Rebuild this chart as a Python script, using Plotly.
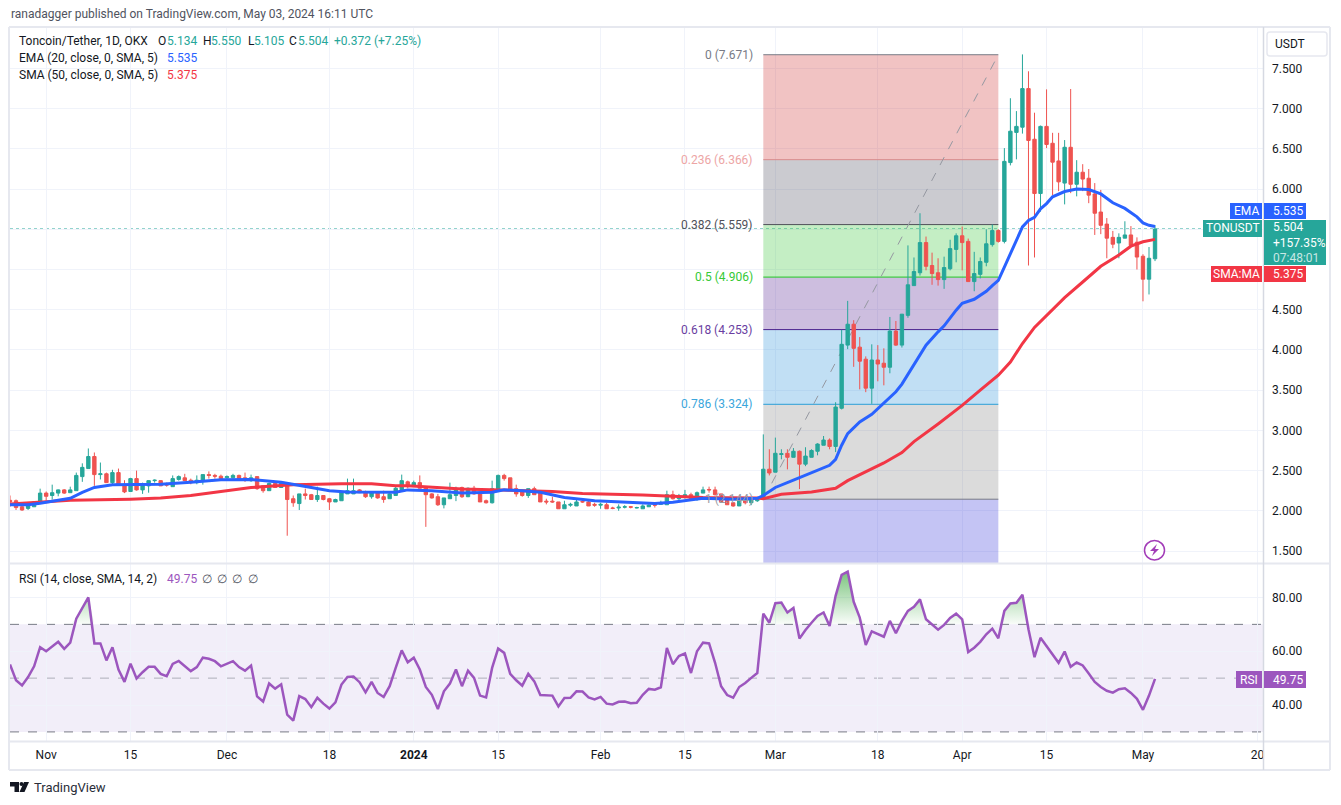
import numpy as np
import pandas as pd
import plotly.graph_objects as go

W = 1341
H = 805
FONT = "Roboto"

dates = pd.date_range("2023-10-26", "2024-05-03", freq="D")

opens = [
    2.13, 2.125, 2.05, 2.03, 2.05, 2.11, 2.22, 2.19, 2.22, 2.26,
    2.225, 2.25, 2.425, 2.525, 2.675, 2.45, 2.46, 2.35, 2.475, 2.33,
    2.24, 2.40, 2.26, 2.31, 2.375, 2.375, 2.33, 2.30, 2.39, 2.41,
    2.38, 2.35, 2.37, 2.45, 2.44, 2.43, 2.41, 2.41, 2.44, 2.41,
    2.375, 2.425, 2.31, 2.25, 2.34, 2.29, 2.325, 2.15, 2.09, 2.21,
    2.20, 2.14, 2.19, 2.15, 2.11, 2.125, 2.21, 2.21, 2.26, 2.235,
    2.175, 2.225, 2.175, 2.15, 2.19, 2.26, 2.36, 2.31, 2.35, 2.30,
    2.21, 2.175, 2.075, 2.15, 2.19, 2.29, 2.175, 2.28, 2.23, 2.125,
    2.10, 2.26, 2.44, 2.41, 2.275, 2.24, 2.19, 2.275, 2.225, 2.12,
    2.12, 2.11, 2.025, 2.07, 2.06, 2.115, 2.11, 2.08, 2.07, 2.075,
    2.035, 2.035, 2.045, 2.05, 2.035, 2.025, 2.05, 2.08, 2.08, 2.075,
    2.20, 2.15, 2.175, 2.20, 2.14, 2.22, 2.265, 2.26, 2.21, 2.14,
    2.10, 2.06, 2.125, 2.10, 2.125, 2.14, 2.517, 2.48, 2.70, 2.715,
    2.665, 2.74, 2.58, 2.665, 2.74, 2.815, 2.88, 2.80, 3.275, 4.06,
    4.32, 4.035, 3.885, 3.525, 3.875, 3.835, 3.785, 4.235, 4.06, 4.43,
    4.80, 4.96, 5.335, 5.05, 4.96, 4.875, 5.01, 5.25, 5.42, 5.35,
    4.85, 4.94, 5.09, 5.31, 5.485, 5.35, 6.33, 6.705, 6.77, 7.25,
    6.62, 5.945, 6.78, 6.57, 6.35, 6.075, 6.52, 6.06, 6.21, 6.135,
    5.94, 5.715, 5.565, 5.40, 5.33, 5.39, 5.43, 5.34, 5.165, 4.88, 5.134,
]
highs = [
    2.19, 2.14, 2.06, 2.09, 2.12, 2.275, 2.24, 2.325, 2.265, 2.27,
    2.30, 2.475, 2.59, 2.775, 2.725, 2.60, 2.475, 2.51, 2.525, 2.38,
    2.41, 2.50, 2.35, 2.38, 2.39, 2.38, 2.35, 2.44, 2.44, 2.46,
    2.40, 2.44, 2.45, 2.49, 2.46, 2.45, 2.44, 2.46, 2.45, 2.475,
    2.45, 2.425, 2.31, 2.35, 2.36, 2.36, 2.33, 2.19, 2.21, 2.275,
    2.21, 2.30, 2.19, 2.16, 2.15, 2.24, 2.40, 2.40, 2.27, 2.25,
    2.225, 2.23, 2.25, 2.22, 2.30, 2.45, 2.375, 2.375, 2.44, 2.30,
    2.22, 2.21, 2.16, 2.35, 2.30, 2.30, 2.29, 2.31, 2.23, 2.14,
    2.375, 2.45, 2.46, 2.41, 2.325, 2.26, 2.275, 2.30, 2.225, 2.15,
    2.175, 2.11, 2.125, 2.10, 2.14, 2.14, 2.14, 2.10, 2.10, 2.10,
    2.05, 2.08, 2.07, 2.06, 2.05, 2.08, 2.08, 2.10, 2.125, 2.25,
    2.25, 2.21, 2.26, 2.225, 2.24, 2.30, 2.30, 2.30, 2.21, 2.17,
    2.10, 2.165, 2.14, 2.16, 2.17, 2.95, 2.765, 2.91, 2.765, 2.765,
    2.78, 2.75, 2.79, 2.765, 2.84, 2.93, 2.90, 3.35, 4.25, 4.61,
    4.37, 4.16, 3.92, 4.07, 4.06, 4.02, 4.41, 4.36, 4.445, 5.30,
    5.15, 5.70, 5.41, 5.21, 5.14, 5.16, 5.37, 5.45, 5.535, 5.385,
    5.22, 5.15, 5.50, 5.56, 5.50, 6.51, 7.13, 6.97, 7.675, 7.465,
    6.95, 6.79, 7.24, 6.70, 6.70, 6.61, 7.245, 6.36, 6.31, 6.25,
    6.075, 5.99, 5.64, 5.48, 5.45, 5.60, 5.54, 5.40, 5.19, 5.28, 5.55,
]
lows = [
    2.05, 2.01, 2.0, 2.01, 2.05, 2.09, 2.125, 2.14, 2.18, 2.21,
    2.225, 2.25, 2.36, 2.525, 2.31, 2.39, 2.35, 2.325, 2.325, 2.22,
    2.24, 2.25, 2.21, 2.225, 2.35, 2.31, 2.30, 2.30, 2.375, 2.375,
    2.33, 2.33, 2.325, 2.40, 2.40, 2.39, 2.39, 2.40, 2.39, 2.36,
    2.36, 2.26, 2.225, 2.25, 2.29, 2.29, 1.69, 2.05, 2.01, 2.14,
    2.14, 2.11, 2.13, 2.01, 2.11, 2.125, 2.21, 2.21, 2.22, 2.16,
    2.15, 2.15, 2.10, 2.15, 2.19, 2.24, 2.28, 2.30, 2.28, 1.80,
    2.15, 2.06, 2.03, 2.15, 2.12, 2.16, 2.17, 2.20, 2.11, 2.09,
    2.09, 2.26, 2.375, 2.26, 2.175, 2.175, 2.16, 2.20, 2.11, 2.08,
    2.10, 2.025, 2.025, 2.05, 2.06, 2.10, 2.06, 2.05, 2.025, 2.025,
    2.02, 2.0, 2.03, 2.03, 2.03, 2.025, 2.05, 2.04, 2.075, 2.075,
    2.14, 2.125, 2.15, 2.14, 2.125, 2.22, 2.225, 2.19, 2.10, 2.075,
    2.05, 2.06, 2.08, 2.07, 2.11, 2.14, 2.44, 2.48, 2.64, 2.515,
    2.665, 2.27, 2.555, 2.665, 2.69, 2.815, 2.765, 2.73, 3.26, 4.01,
    3.79, 3.51, 3.475, 3.33, 3.61, 3.56, 3.71, 4.05, 4.03, 4.40,
    4.80, 4.925, 4.99, 4.81, 4.80, 4.76, 4.99, 5.09, 4.99, 4.85,
    4.73, 4.89, 5.04, 5.285, 5.335, 5.325, 6.295, 6.37, 6.69, 5.05,
    5.15, 5.72, 6.51, 5.925, 5.975, 5.81, 5.95, 5.91, 5.975, 5.825,
    5.43, 5.44, 5.14, 5.265, 5.14, 5.39, 5.29, 5.0, 4.605, 4.69, 5.105,
]
closes = [
    2.11, 2.04, 2.01, 2.06, 2.11, 2.22, 2.18, 2.225, 2.26, 2.22,
    2.26, 2.44, 2.54, 2.675, 2.45, 2.46, 2.35, 2.475, 2.325, 2.235,
    2.40, 2.26, 2.325, 2.375, 2.38, 2.31, 2.32, 2.40, 2.425, 2.375,
    2.35, 2.38, 2.45, 2.44, 2.43, 2.40, 2.425, 2.44, 2.40, 2.39,
    2.41, 2.275, 2.25, 2.34, 2.29, 2.34, 2.14, 2.10, 2.21, 2.19,
    2.14, 2.19, 2.14, 2.11, 2.14, 2.225, 2.25, 2.25, 2.225, 2.175,
    2.225, 2.16, 2.14, 2.21, 2.28, 2.375, 2.30, 2.35, 2.28, 2.20,
    2.16, 2.075, 2.16, 2.20, 2.28, 2.175, 2.28, 2.21, 2.11, 2.10,
    2.275, 2.44, 2.40, 2.26, 2.21, 2.19, 2.275, 2.20, 2.11, 2.11,
    2.11, 2.025, 2.075, 2.08, 2.11, 2.11, 2.06, 2.07, 2.08, 2.025,
    2.03, 2.045, 2.05, 2.045, 2.04, 2.06, 2.07, 2.07, 2.10, 2.20,
    2.15, 2.18, 2.20, 2.14, 2.225, 2.26, 2.26, 2.20, 2.11, 2.075,
    2.06, 2.125, 2.10, 2.14, 2.16, 2.517, 2.47, 2.715, 2.71, 2.665,
    2.74, 2.58, 2.68, 2.75, 2.83, 2.88, 2.80, 3.29, 4.07, 4.32,
    4.02, 3.86, 3.525, 3.875, 3.825, 3.785, 4.235, 4.06, 4.445, 4.81,
    4.975, 5.335, 5.04, 4.95, 4.875, 5.025, 5.26, 5.42, 5.335, 4.85,
    4.95, 5.10, 5.32, 5.485, 5.35, 6.345, 6.72, 6.78, 7.25, 6.605,
    5.945, 6.78, 6.555, 6.335, 6.09, 6.52, 6.06, 6.21, 6.125, 5.925,
    5.70, 5.55, 5.39, 5.315, 5.40, 5.43, 5.30, 5.155, 4.88, 5.14, 5.504,
]

# moving averages at these candles
ema_days = [
    0, 3, 5, 8, 10, 12, 14, 17, 20, 25, 30, 35, 40, 45, 50, 53, 56, 60, 64, 66,
    70, 75, 80, 82, 85, 88, 92, 97, 102, 107, 110, 115, 120, 124, 125, 127, 130,
    133, 136, 137, 138, 139, 141, 143, 145, 147, 148, 150, 151, 152, 154, 155,
    157, 158, 160, 162, 163, 164, 165, 166, 167, 168, 169, 170, 171, 172, 173,
    175, 177, 179, 181, 183, 185, 187, 188, 189, 190,
]
ema_vals = [
    2.075, 2.075, 2.095, 2.13, 2.155, 2.23, 2.29, 2.325, 2.325, 2.33, 2.355,
    2.385, 2.39, 2.355, 2.29, 2.25, 2.235, 2.235, 2.23, 2.26, 2.25, 2.22, 2.23,
    2.26, 2.25, 2.23, 2.165, 2.125, 2.105, 2.09, 2.105, 2.155, 2.145, 2.155,
    2.19, 2.29, 2.38, 2.47, 2.565, 2.64, 2.815, 2.96, 3.105, 3.20, 3.335, 3.48,
    3.575, 3.81, 3.935, 4.06, 4.225, 4.30, 4.495, 4.58, 4.63, 4.73, 4.80, 4.865,
    5.03, 5.195, 5.36, 5.53, 5.61, 5.65, 5.755, 5.82, 5.905, 5.97, 6.0, 5.995,
    5.94, 5.83, 5.76, 5.655, 5.58, 5.55, 5.535,
]
sma_days = [
    0, 5, 10, 20, 25, 30, 35, 40, 43, 47, 55, 60, 64, 66, 75, 85, 90, 95, 105,
    115, 124, 125, 128, 133, 137, 139, 142, 145, 148, 150, 154, 158, 161, 164,
    166, 168, 170, 173, 175, 178, 181, 184, 186, 188, 190,
]
sma_vals = [
    2.085, 2.11, 2.13, 2.145, 2.16, 2.19, 2.24, 2.29, 2.305, 2.325, 2.335, 2.335,
    2.31, 2.31, 2.27, 2.25, 2.24, 2.215, 2.195, 2.165, 2.16, 2.15, 2.205, 2.235,
    2.28, 2.375, 2.48, 2.595, 2.725, 2.86, 3.08, 3.31, 3.5, 3.685, 3.85, 4.08,
    4.28, 4.51, 4.65, 4.845, 5.04, 5.18, 5.29, 5.345, 5.375,
]

rsi_vals = [
    55.1, 49.2, 47.3, 50.4, 54.4, 61.5, 60, 61.9, 63.5, 60.9,
    63.2, 72.1, 75.9, 80, 62.9, 62.9, 56.6, 61.5, 53.2, 48.6,
    55.4, 49.9, 52.2, 54.2, 54.2, 51.6, 50.7, 55.3, 56.4, 54.4,
    52.6, 54.1, 57.6, 57.2, 56.3, 54.4, 55.4, 56.3, 54.1, 52.8,
    54.7, 43.2, 41.3, 48, 46.1, 47.7, 36.4, 34.2, 43.3, 42.2,
    39.2, 42.7, 40.5, 38.7, 41, 47.6, 50.4, 50.6, 48.5, 44.7,
    48.6, 44.5, 43, 47, 53.8, 60.3, 55.9, 57.6, 53.2, 46.7,
    43.8, 38.5, 45.1, 48, 53.2, 47, 52.8, 50.1, 43.5, 42.8,
    53.8, 61, 59.4, 51.6, 49.2, 47.2, 51.6, 48.8, 43.7, 43.6,
    43.5, 39.5, 42.6, 42.7, 45.1, 45, 42.8, 42.1, 43, 40.5,
    40.2, 41.2, 41.3, 40.7, 40.8, 43.8, 46, 45.7, 46.6, 61.2,
    55.2, 58.2, 59.2, 51.9, 60, 63.2, 62.9, 55.7, 47, 43.7,
    42.7, 46.7, 48.2, 50.1, 51.9, 74, 70.6, 77.9, 78.1, 74.4,
    76.1, 64.7, 67.9, 70.6, 73.1, 74.4, 69.4, 80.6, 88.4, 89.6,
    78.4, 72.5, 62.3, 67.4, 66.3, 65.4, 71.3, 66.7, 71.3, 75,
    76.5, 79.3, 71.9, 69.8, 68, 69.8, 72.4, 74, 71.9, 59.7,
    61.3, 63.5, 66.3, 68.4, 64.8, 75, 77.8, 78, 81, 68.2,
    57.8, 65, 61.9, 58.8, 55.7, 59.9, 54.2, 55.8, 54.7, 51.7,
    48.6, 46.7, 45.3, 44.6, 45.9, 46.2, 44.5, 42.3, 38.2, 43.5, 49.75,
]

fib_ratios = ["0", "0.236", "0.382", "0.5", "0.618", "0.786", "1"]
fib_prices = [7.671, 6.366, 5.559, 4.906, 4.253, 3.324, 2.144]
fib_lines = ["#787b86", "#d98a8a", "#50505a", "#22c922", "#4a1f8c", "#2b9fd8", "#787b86"]
fib_text = ["#787b86", "#eda5a5", "#50505a", "#35c935", "#6a3ea1", "#3ba6dc", "#9a9ca5"]
fib_fills = [
    "rgba(204,40,40,0.28)", "rgba(70,70,85,0.28)", "rgba(60,200,60,0.30)",
    "rgba(90,40,150,0.30)", "rgba(50,150,220,0.30)", "rgba(90,90,90,0.22)",
    "rgba(60,60,220,0.30)",
]

price_ticks = [1.5, 2.0, 2.5, 3.0, 3.5, 4.0, 4.5, 5.0, 5.5, 6.0, 6.5, 7.0, 7.5]
# 5.000 and 5.500 sit under the value boxes in the reference
price_labels = ["1.500", "2.000", "2.500", "3.000", "3.500", "4.000", "4.500", "", "",
                "6.000", "6.500", "7.000", "7.500"]
rsi_ticks = [40, 60, 80]
time_ticks = [
    "2023-11-01", "2023-11-15", "2023-12-01", "2023-12-18", "2024-01-01", "2024-01-15",
    "2024-02-01", "2024-02-15", "2024-03-01", "2024-03-18", "2024-04-01", "2024-04-15",
    "2024-05-01", "2024-05-20",
]
time_labels = ["Nov", "15", "Dec", "18", "<b>2024</b>", "15", "Feb", "15", "Mar", "18", "Apr", "15", "May", "20"]

UP = "#26a69a"
DOWN = "#ef5350"
EMA = "#2962ff"
SMA = "#f23645"
RSI = "#9c56be"
GRID = "#f0f3fa"
EDGE = "#e6e8ef"
TEXT = "#131722"

assert len(dates) == len(opens) == len(highs) == len(lows) == len(closes) == len(rsi_vals)
assert len(ema_days) == len(ema_vals) and len(sma_days) == len(sma_vals)

PY_TOP = 1.5 + (551 - 28) / 80.42
PY_BOT = 1.5 - (563 - 551) / 80.42
RSI_TOP = 80 + (597.5 - 564) / 2.69
RSI_BOT = 40 - (741 - 705) / 2.69
x_range = [dates[0], pd.Timestamp("2024-05-20 22:00")]


def px(x):
    return x / W


def py(y):
    return 1 - y / H


fig = go.Figure()
fig.add_trace(go.Candlestick(
    x=dates, open=opens, high=highs, low=lows, close=closes,
    increasing=dict(line=dict(color=UP, width=1), fillcolor=UP),
    decreasing=dict(line=dict(color=DOWN, width=1), fillcolor=DOWN),
    whiskerwidth=0, xaxis="x", yaxis="y", hoverinfo="skip",
))
fig.add_trace(go.Scatter(
    x=dates[sma_days], y=sma_vals, mode="lines", xaxis="x", yaxis="y",
    line=dict(color=SMA, width=3), hoverinfo="skip",
))
fig.add_trace(go.Scatter(
    x=dates[ema_days], y=ema_vals, mode="lines", xaxis="x", yaxis="y",
    line=dict(color=EMA, width=3), hoverinfo="skip",
))

# green glow above the 70 line
fig.add_trace(go.Scatter(
    x=dates, y=[70] * len(dates), mode="lines", xaxis="x2", yaxis="y2",
    line=dict(width=0), hoverinfo="skip",
))
fig.add_trace(go.Scatter(
    x=dates, y=np.maximum(rsi_vals, 70), mode="lines", xaxis="x2", yaxis="y2",
    line=dict(width=0), fill="tonexty", hoverinfo="skip",
    fillgradient=dict(
        type="vertical", start=90, stop=70,
        colorscale=[[0, "rgba(76,175,80,0.75)"], [1, "rgba(76,175,80,0.03)"]],
    ),
))
fig.add_trace(go.Scatter(
    x=dates, y=rsi_vals, mode="lines", xaxis="x2", yaxis="y2",
    line=dict(color=RSI, width=2.5), hoverinfo="skip",
))

shapes = []
fib_start = dates[125]
fib_end = dates[164]
band_edges = fib_prices + [PY_BOT]
for i in range(len(fib_fills)):
    shapes.append(dict(
        type="rect", xref="x", yref="y", x0=fib_start, x1=fib_end,
        y0=band_edges[i], y1=band_edges[i + 1],
        fillcolor=fib_fills[i], line_width=0, layer="between",
    ))
for level, color in zip(fib_prices, fib_lines):
    shapes.append(dict(
        type="line", xref="x", yref="y", x0=fib_start, x1=fib_end, y0=level, y1=level,
        line=dict(color=color, width=1), layer="between",
    ))
shapes.append(dict(
    type="line", xref="x", yref="y", x0=fib_start, x1=fib_end, y0=fib_prices[-1], y1=fib_prices[0],
    line=dict(color="#9598a1", width=1, dash="dash"), layer="between",
))
shapes.append(dict(
    type="line", xref="paper", yref="y", x0=px(10), x1=px(1263), y0=closes[-1], y1=closes[-1],
    line=dict(color=UP, width=1, dash="dot"), layer="between",
))

# rsi band
shapes.append(dict(
    type="rect", xref="paper", yref="y2", x0=px(10), x1=px(1263), y0=30, y1=70,
    fillcolor="rgba(126,87,194,0.1)", line_width=0, layer="between",
))
for level, color in [(70, "#787b86"), (50, "rgba(120,123,134,0.55)"), (30, "#787b86")]:
    shapes.append(dict(
        type="line", xref="paper", yref="y2", x0=px(10), x1=px(1263), y0=level, y1=level,
        line=dict(color=color, width=1, dash="dash"), layer="between",
    ))


def frame(x0, y0, x1, y1, color=EDGE, width=2):
    shapes.append(dict(
        type="line", xref="paper", yref="paper", x0=px(x0), x1=px(x1), y0=py(y0), y1=py(y1),
        line=dict(color=color, width=width), layer="above",
    ))


frame(9, 27, 1330, 27)
frame(9, 27, 9, 770)
frame(1330, 27, 1330, 770)
frame(9, 770, 1330, 770)
frame(10, 563.5, 1330, 563.5)
frame(10, 741.5, 1330, 741.5)
frame(1263.5, 27, 1263.5, 770, color="#d6d9e2", width=1.5)


def box(x0, y0, x1, y1, color):
    shapes.append(dict(
        type="rect", xref="paper", yref="paper", x0=px(x0), x1=px(x1), y0=py(y0), y1=py(y1),
        fillcolor=color, line_width=0, layer="above",
    ))


box(1230, 203, 1262, 219, EMA)
box(1264, 203, 1306, 219, EMA)
box(1203, 220, 1262, 237, UP)
box(1264, 220, 1326, 265, UP)
box(1211, 266, 1262, 282, SMA)
box(1264, 266, 1306, 282, SMA)
box(1236, 671, 1262, 688, RSI)
box(1264, 671, 1306, 688, RSI)

# USDT button
shapes.append(dict(
    type="path", xref="paper", yref="paper", layer="above",
    path=f"M {px(1270)} {py(32)} L {px(1324)} {py(32)} Q {px(1327)} {py(32)} {px(1327)} {py(35)} "
         f"L {px(1327)} {py(53)} Q {px(1327)} {py(56)} {px(1324)} {py(56)} L {px(1270)} {py(56)} "
         f"Q {px(1267)} {py(56)} {px(1267)} {py(53)} L {px(1267)} {py(35)} Q {px(1267)} {py(32)} {px(1270)} {py(32)} Z",
    line=dict(color=EDGE, width=1.5), fillcolor="white",
))

# lightning marker
shapes.append(dict(
    type="circle", xref="paper", yref="paper", x0=px(1144.5), x1=px(1164.5), y0=py(540.5), y1=py(560),
    line=dict(color="#a23cb8", width=1.5), fillcolor="white", layer="above",
))
shapes.append(dict(
    type="path", xref="paper", yref="paper", layer="above",
    path=f"M {px(1157)} {py(544)} L {px(1150)} {py(551)} L {px(1154)} {py(551)} L {px(1152)} {py(556)} "
         f"L {px(1159)} {py(549)} L {px(1155)} {py(549)} Z",
    line_width=0, fillcolor="#a23cb8",
))

# TradingView mark
shapes.append(dict(
    type="path", xref="paper", yref="paper", layer="above",
    path=f"M {px(10)} {py(782)} L {px(19)} {py(782)} L {px(19)} {py(792)} L {px(14.5)} {py(792)} "
         f"L {px(14.5)} {py(786.5)} L {px(10)} {py(786.5)} Z",
    line_width=0, fillcolor=TEXT,
))
shapes.append(dict(
    type="circle", xref="paper", yref="paper", x0=px(19.5), x1=px(23.5), y0=py(782), y1=py(786),
    line_width=0, fillcolor=TEXT, layer="above",
))
shapes.append(dict(
    type="path", xref="paper", yref="paper", layer="above",
    path=f"M {px(29)} {py(782)} L {px(24.5)} {py(792)} L {px(19.5)} {py(792)} L {px(24)} {py(782)} Z",
    line_width=0, fillcolor=TEXT,
))

annotations = []


def label(x, y, text, color=TEXT, size=12, anchor="left"):
    annotations.append(dict(
        xref="paper", yref="paper", x=px(x), y=py(y), text=text, showarrow=False,
        xanchor=anchor, yanchor="middle", font=dict(family=FONT, size=size, color=color),
        align=anchor, borderpad=0,
    ))


label(10, 14, "ranadagger published on TradingView.com, May 03, 2024 16:11 UTC", "#50535e")
label(18, 41, "Toncoin/Tether, 1D, OKX")
for x, name, vx, value in [(157, "O", 166, "5.134"), (202, "H", 210, "5.550"),
                           (247, "L", 253, "5.105"), (288, "C", 297, "5.504")]:
    label(x, 41, name)
    label(vx, 41, value, UP)
label(333, 41, "+0.372 (+7.25%)", UP)
label(18, 58, "EMA (20, close, 0, SMA, 5)")
label(166, 58, "5.535", EMA)
label(18, 75, "SMA (50, close, 0, SMA, 5)")
label(166, 75, "5.375", SMA)
label(18, 579, "RSI (14, close, SMA, 14, 2)")
label(166, 579, "49.75", RSI)
for x in [207, 222, 237, 253]:
    label(x, 579, "∅", "#50535e", anchor="center")

label(1290, 44, "USDT", anchor="center")
label(1246, 211, "EMA", "white", anchor="center")
label(1272, 211, "5.535", "white")
label(1232.5, 228.5, "TONUSDT", "white", anchor="center")
label(1272, 243, "5.504<br>+157.35%<br><span style='color:rgba(255,255,255,0.75)'>07:48:01</span>", "white")
label(1236.5, 274, "SMA:MA", "white", anchor="center")
label(1272, 274, "5.375", "white")
label(1249, 679.5, "RSI", "white", anchor="center")
label(1272, 679.5, "49.75", "white")
label(33, 787, "TradingView", "#2a2e39", size=13)

for ratio, price, color in zip(fib_ratios, fib_prices, fib_text):
    annotations.append(dict(
        xref="x", yref="y", x=fib_start, y=price, xshift=-8, text=f"{ratio} ({price:.3f})",
        showarrow=False, xanchor="right", yanchor="middle",
        font=dict(family=FONT, size=12, color=color),
    ))

fig.update_layout(
    width=W, height=H, margin=dict(l=0, r=0, t=0, b=0), autosize=False,
    paper_bgcolor="white", plot_bgcolor="white", showlegend=False, boxgap=0.2,
    font=dict(family=FONT, size=12, color=TEXT), hovermode=False,
    shapes=shapes, annotations=annotations,
    xaxis=dict(
        domain=[px(10), px(1263)], anchor="y", range=x_range, type="date",
        rangeslider=dict(visible=False), tickvals=time_ticks, ticktext=[""] * len(time_ticks),
        showgrid=True, gridcolor=GRID, gridwidth=1, zeroline=False, ticks="", showline=False,
    ),
    yaxis=dict(
        domain=[py(563), py(28)], anchor="x", side="right", range=[PY_BOT, PY_TOP],
        tickvals=price_ticks, ticktext=price_labels,
        showgrid=True, gridcolor=GRID, zeroline=False, ticks="", showline=False, ticklabelstandoff=8,
    ),
    xaxis2=dict(
        domain=[px(10), px(1263)], anchor="y2", range=x_range, type="date",
        tickvals=time_ticks, ticktext=time_labels, tickangle=0,
        showgrid=True, gridcolor=GRID, zeroline=False, ticks="", showline=False, ticklabelstandoff=5,
    ),
    yaxis2=dict(
        domain=[py(741), py(564)], anchor="x2", side="right", range=[RSI_BOT, RSI_TOP],
        tickvals=rsi_ticks, ticktext=[f"{v:.2f}" for v in rsi_ticks],
        showgrid=True, gridcolor=GRID, zeroline=False, ticks="", showline=False, ticklabelstandoff=8,
    ),
)

fig.write_html(
    "out.html",
    config={"displayModeBar": False},
    post_script="document.body.style.margin='0';document.body.style.overflow='hidden';",
)
